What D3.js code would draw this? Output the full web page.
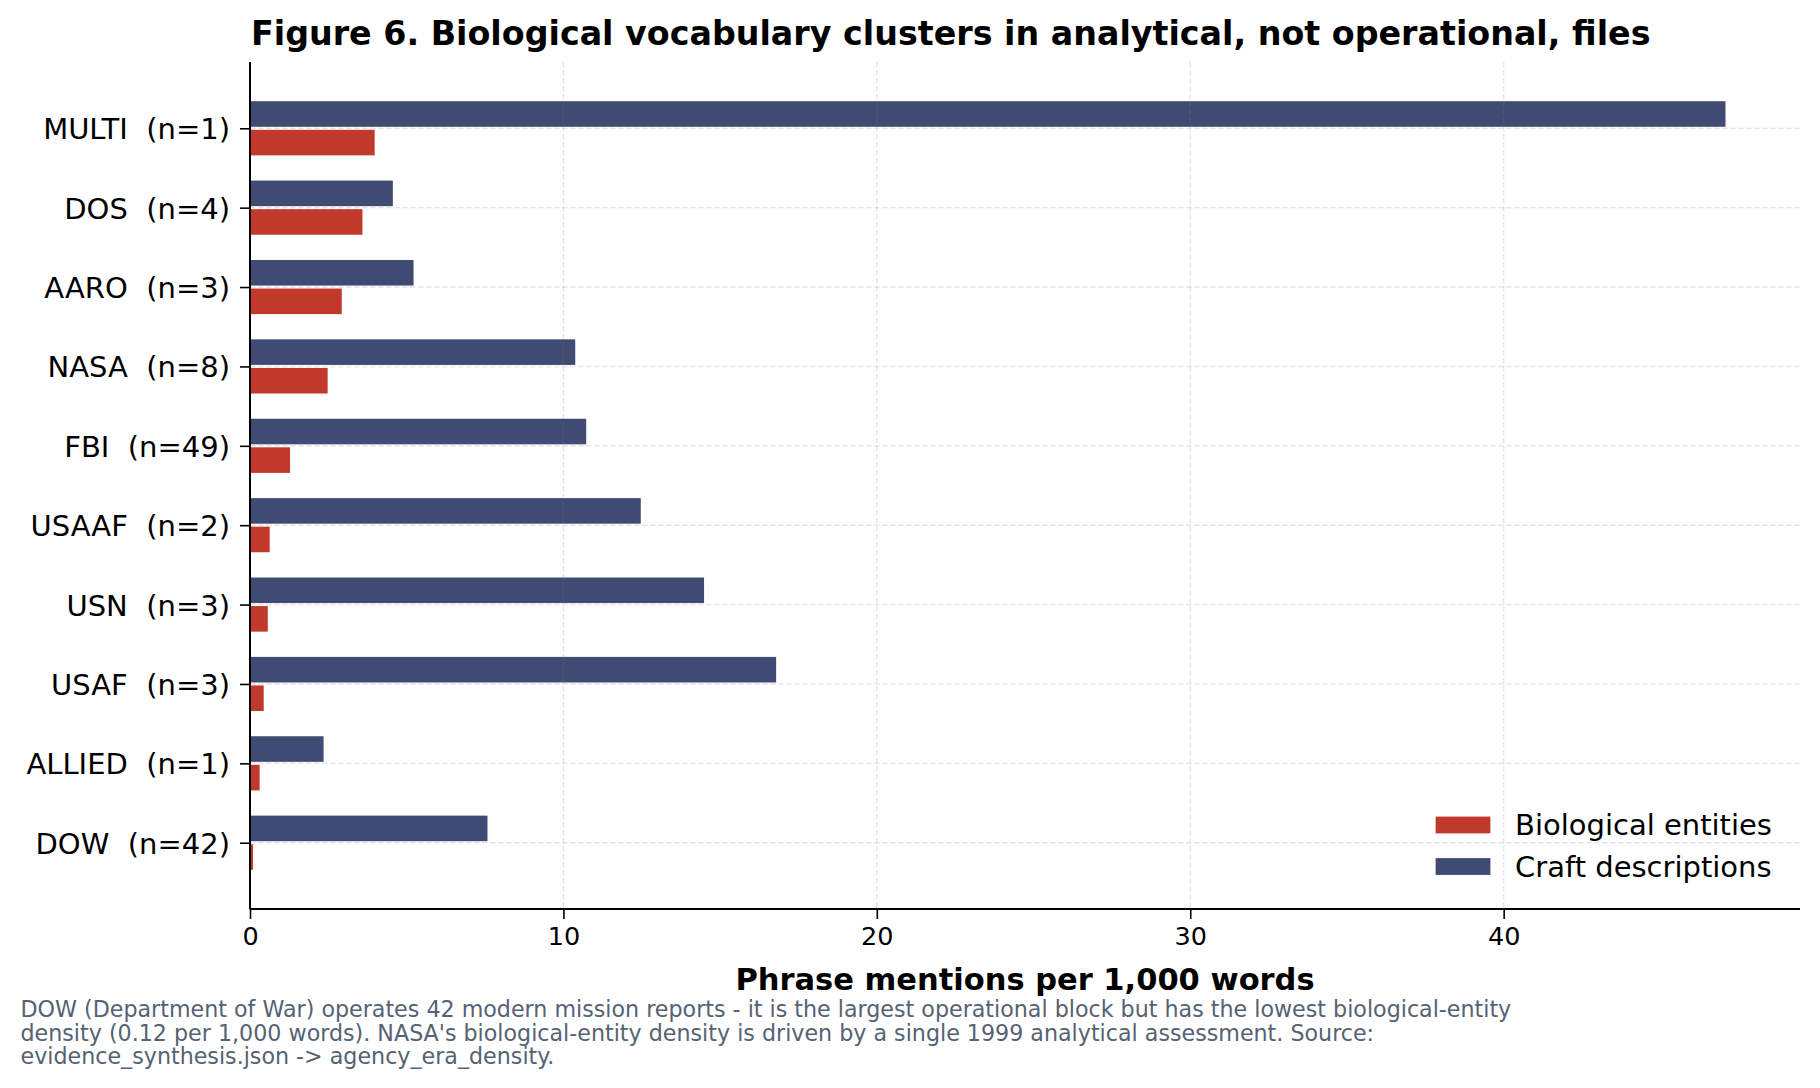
<!DOCTYPE html>
<html>
<head>
<meta charset="utf-8">
<script src="https://cdn.jsdelivr.net/npm/d3@7"></script>
<style>
  body { margin: 0; background: #fff; }
  svg { display: block; font-family: "DejaVu Sans", sans-serif; }
  text { white-space: pre; }
</style>
</head>
<body>
<div id="chart"></div>
<script>
// agencies, ordered top to bottom
const agencies = ["MULTI", "DOS", "AARO", "NASA", "FBI", "USAAF", "USN", "USAF", "ALLIED", "DOW"];
const docCounts = [1, 4, 3, 8, 49, 2, 3, 3, 1, 42];

// phrase mentions per 1,000 words
const bioDensity = [4.0, 3.61, 2.95, 2.5, 1.3, 0.65, 0.59, 0.46, 0.33, 0.12];
const craftDensity = [47.1, 4.58, 5.24, 10.4, 10.75, 12.49, 14.51, 16.81, 2.37, 7.6];

const xTicks = [0, 10, 20, 30, 40];

const seriesNames = ["Biological entities", "Craft descriptions"];
const bioColor = "#c0392b";
const craftColor = "#404b73";

const footnote = [
  "DOW (Department of War) operates 42 modern mission reports - it is the largest operational block but has the lowest biological-entity",
  "density (0.12 per 1,000 words). NASA's biological-entity density is driven by a single 1999 analytical assessment. Source:",
  "evidence_synthesis.json -> agency_era_density."
];

const W = 1820, H = 1088;
const plot = { left: 250, right: 1800, top: 62, bottom: 909 };

const barH = 0.34;
const offset = 0.18;

const svg = d3.select("#chart")
  .append("svg")
  .attr("width", W)
  .attr("height", H);

const rows = agencies.map((a, i) => ({
  label: `${a}  (n=${docCounts[i]})`,
  i,
  bio: bioDensity[i],
  craft: craftDensity[i]
}));

const x = d3.scaleLinear()
  .domain([0, d3.max(craftDensity) * 1.05])
  .range([plot.left, plot.right]);

// matplotlib-like 5% margins around the bar extents
const lo = -(offset + barH / 2), hi = rows.length - 1 + offset + barH / 2;
const pad = (hi - lo) * 0.05;
const y = d3.scaleLinear()
  .domain([lo - pad, hi + pad])
  .range([plot.top, plot.bottom]);

// bars
const barG = svg.append("g");
barG.selectAll("rect.craft")
  .data(rows)
  .join("rect")
  .attr("class", "craft")
  .attr("x", x(0))
  .attr("y", d => y(d.i - offset - barH / 2))
  .attr("width", d => x(d.craft) - x(0))
  .attr("height", y(barH) - y(0))
  .attr("fill", craftColor)
  .attr("stroke", "#fff")
  .attr("stroke-width", 1.4);

barG.selectAll("rect.bio")
  .data(rows)
  .join("rect")
  .attr("class", "bio")
  .attr("x", x(0))
  .attr("y", d => y(d.i + offset - barH / 2))
  .attr("width", d => x(d.bio) - x(0))
  .attr("height", y(barH) - y(0))
  .attr("fill", bioColor)
  .attr("stroke", "#fff")
  .attr("stroke-width", 1.4);

// grid, drawn over the bars like matplotlib's default
const grid = svg.append("g")
  .attr("stroke", "#808080")
  .attr("stroke-opacity", 0.2)
  .attr("stroke-width", 1.5)
  .attr("stroke-dasharray", "5.5,2.5");

grid.selectAll("line.v")
  .data(xTicks)
  .join("line")
  .attr("class", "v")
  .attr("x1", d => x(d)).attr("x2", d => x(d))
  .attr("y1", plot.top).attr("y2", plot.bottom);

grid.selectAll("line.h")
  .data(rows)
  .join("line")
  .attr("class", "h")
  .attr("x1", plot.left).attr("x2", plot.right)
  .attr("y1", d => y(d.i)).attr("y2", d => y(d.i));

// x axis
const xAxis = svg.append("g")
  .attr("transform", `translate(0, ${plot.bottom})`)
  .call(d3.axisBottom(x).tickValues(xTicks).tickFormat(d3.format("d")).tickSize(10).tickPadding(8).tickSizeOuter(0));
xAxis.select(".domain").attr("stroke-width", 2).attr("d", `M${plot.left},0H${plot.right}`);
xAxis.selectAll(".tick line").attr("stroke-width", 1.6);
xAxis.selectAll(".tick text")
  .attr("font-family", "DejaVu Sans")
  .attr("font-size", 25.5)
  .attr("fill", "#000");

// y axis
const yAxis = svg.append("g")
  .attr("transform", `translate(${plot.left}, 0)`)
  .call(d3.axisLeft(y).tickValues(rows.map(d => d.i)).tickFormat(i => rows[i].label).tickSize(10).tickPadding(10).tickSizeOuter(0));
yAxis.select(".domain").attr("stroke-width", 2).attr("d", `M0,${plot.top}V${plot.bottom}`);
yAxis.selectAll(".tick line").attr("stroke-width", 1.6);
yAxis.selectAll(".tick text")
  .attr("font-family", "DejaVu Sans")
  .attr("font-size", 29)
  .attr("fill", "#000")
  .attr("dy", "0.36em");

// title
svg.append("text")
  .attr("x", plot.left + 1)
  .attr("y", 45)
  .attr("font-size", 33.3)
  .attr("font-weight", "bold")
  .attr("fill", "#000")
  .text("Figure 6. Biological vocabulary clusters in analytical, not operational, files");

// x axis label
svg.append("text")
  .attr("x", (plot.left + plot.right) / 2)
  .attr("y", 990)
  .attr("text-anchor", "middle")
  .attr("font-size", 30.5)
  .attr("font-weight", "bold")
  .attr("fill", "#000")
  .text("Phrase mentions per 1,000 words");

// legend, lower right
const legend = svg.append("g");
const legendItems = legend.selectAll("g")
  .data(seriesNames)
  .join("g")
  .attr("transform", (d, i) => `translate(1435, ${816 + i * 41.5})`);
legendItems.append("rect")
  .attr("width", 56)
  .attr("height", 18)
  .attr("fill", (d, i) => i === 0 ? bioColor : craftColor)
  .attr("stroke", "#fff")
  .attr("stroke-width", 1.2);
legendItems.append("text")
  .attr("x", 80)
  .attr("y", 19)
  .attr("font-size", 29)
  .attr("fill", "#000")
  .text(d => d);

// footnote
svg.append("g")
  .selectAll("text")
  .data(footnote)
  .join("text")
  .attr("x", 20.5)
  .attr("y", (d, i) => 1017.3 + i * 23.2)
  .attr("font-size", 22.2)
  .attr("fill", "#556273")
  .text(d => d);
</script>
</body>
</html>
